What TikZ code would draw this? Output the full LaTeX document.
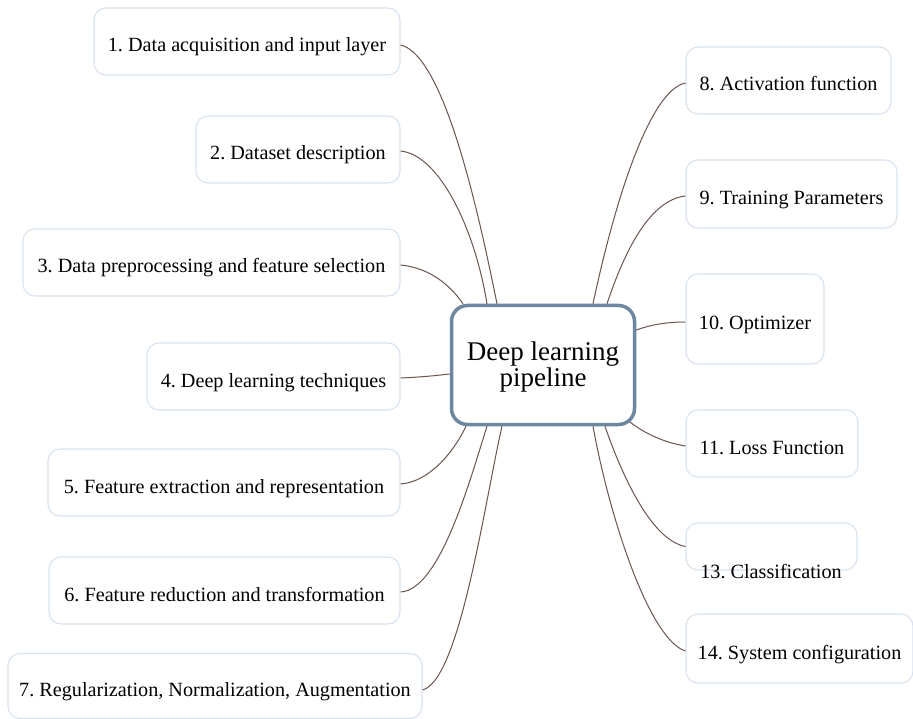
\documentclass[tikz,border=0pt]{standalone}
\usepackage{fontspec}
\setmainfont{Liberation Serif}
\frenchspacing
\begin{document}
\begin{tikzpicture}[x=1pt,y=-1pt,
  topic/.style={draw=boxline, line width=1.1pt, rounded corners=12pt, fill=white,
    font=\fontsize{20.2}{24}\selectfont, text=black, inner sep=0pt,
    text height=21pt, text depth=0pt},
  hub/.style={draw=hubline, line width=3.5pt, rounded corners=16pt, fill=white,
    font=\fontsize{27}{26}\selectfont, inner sep=0pt,
    minimum width=183pt, minimum height=119pt},
  link/.style={draw=linkcol, line width=1pt}]
\definecolor{boxline}{HTML}{D8E2EE}
\definecolor{hubline}{HTML}{6C87A0}
\definecolor{linkcol}{HTML}{6A554E}
\useasboundingbox[fill=white] (0,0) rectangle (913,719);

% central hub; the title is lowered a little inside its frame
\node[hub] (hub) at (543,365)
  {\raisebox{-3pt}[\height][\depth]{\begin{tabular}{@{}c@{}}Deep learning\\pipeline\end{tabular}}};

% left branch
\node[topic, minimum width=306pt, minimum height=67pt] (t1) at (247,41.5) {1. Data acquisition and input layer};
\node[topic, minimum width=204pt, minimum height=67pt] (t2) at (298,149.5) {2. Dataset description};
\node[topic, minimum width=377pt, minimum height=67pt] (t3) at (211.5,262.5) {3. Data preprocessing and feature selection};
\node[topic, minimum width=253pt, minimum height=67pt] (t4) at (273.5,376.5) {4. Deep learning techniques};
\node[topic, minimum width=352pt, minimum height=67pt] (t5) at (224,482.5) {5. Feature extraction and representation};
\node[topic, minimum width=351pt, minimum height=67pt] (t6) at (224.5,590.5) {6. Feature reduction and transformation};
\node[topic, minimum width=414pt, minimum height=65pt] (t7) at (215,686) {7. Regularization, Normalization, Augmentation};

% right branch
\node[topic, minimum width=205pt, minimum height=67pt] (t8) at (788.5,80.5) {8. Activation function};
\node[topic, minimum width=211pt, minimum height=68pt] (t9) at (791.5,194) {9. Training Parameters};
\node[topic, minimum width=138pt, minimum height=90pt] (t10) at (755,319) {10. Optimizer};
\node[topic, minimum width=172pt, minimum height=67pt] (t11) at (772,443.5) {11. Loss Function};
\node[topic, minimum width=171pt, minimum height=47pt] (t13) at (771.5,546.5) {};
\node[font=\fontsize{20.2}{24}\selectfont, inner sep=0pt, anchor=base] (t13label) at (771,578) {13. Classification};
\node[topic, minimum width=227pt, minimum height=69pt] (t14) at (799.5,648.5) {14. System configuration};

% connectors, left
\draw[link] (t1.east |- 0,45) .. controls (445,55) and (480,220) .. (hub.north west -| 497,0);
\draw[link] (t2.east |- 0,151) .. controls (440,155) and (475,230) .. (hub.north west -| 487,0);
\draw[link] (t3.east |- 0,265) .. controls (430,268) and (450,285) .. (hub.north west -| 463,0);
\draw[link] (t4.east |- 0,378) .. controls (425,377) and (440,375) .. (hub.west |- 0,374);
\draw[link] (t5.east |- 0,484) .. controls (430,482) and (455,450) .. (hub.south west -| 466,0);
\draw[link] (t6.east |- 0,592) .. controls (440,590) and (470,480) .. (hub.south west -| 487,0);
\draw[link] (t7.east |- 0,690) .. controls (460,680) and (485,500) .. (hub.south west -| 502,0);

% connectors, right
\draw[link] (t8.west |- 0,83) .. controls (650,90) and (615,200) .. (hub.north east -| 593,0);
\draw[link] (t9.west |- 0,196) .. controls (650,200) and (625,250) .. (hub.north east -| 607,0);
\draw[link] (t10.west |- 0,322) .. controls (660,322) and (645,327) .. (hub.east |- 0,330);
\draw[link] (t11.west |- 0,446) .. controls (660,442) and (640,430) .. (630,422);
\draw[link] (t13.west) .. controls (650,540) and (620,470) .. (hub.south east -| 605,0);
\draw[link] (t14.west |- 0,651) .. controls (650,640) and (610,520) .. (hub.south east -| 593,0);
\end{tikzpicture}
\end{document}
